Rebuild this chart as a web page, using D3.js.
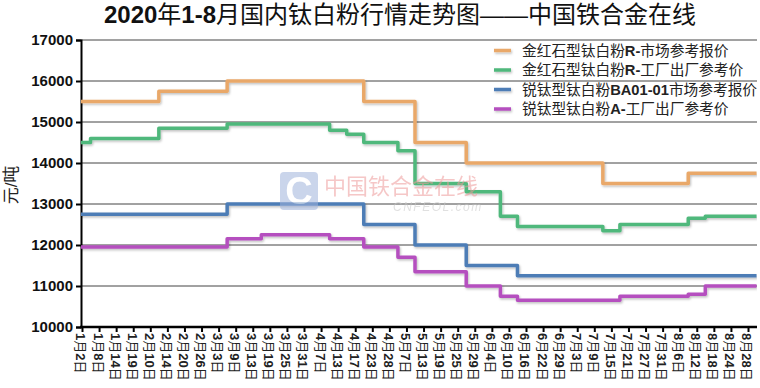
<!DOCTYPE html>
<html>
<head>
<meta charset="utf-8">
<script src="https://cdn.jsdelivr.net/npm/d3@7"></script>
<style>
  body { margin: 0; background: #fff; }
  svg { display: block; font-family: "Liberation Sans", Arial, "Noto Sans CJK SC", sans-serif; }
</style>
</head>
<body>
<div id="chart"></div>
<script>
// x categories (tick labels)
var dates = ["1月2日","1月8日","1月14日","1月19日","2月10日","2月14日","2月20日","2月26日",
  "3月3日","3月9日","3月13日","3月19日","3月25日","3月31日","4月7日","4月13日","4月17日",
  "4月23日","4月28日","5月7日","5月13日","5月19日","5月25日","5月29日","6月4日","6月10日",
  "6月16日","6月22日","6月29日","7月3日","7月9日","7月15日","7月21日","7月27日","7月31日",
  "8月6日","8月12日","8月18日","8月24日","8月28日"];

var yTicks = [10000, 11000, 12000, 13000, 14000, 15000, 16000, 17000];

// 金红石型钛白粉R-市场参考报价
var rutileMarket = [15500,15500,15500,15500,15500,15750,15750,15750,15750,16000,
  16000,16000,16000,16000,16000,16000,16000,15500,15500,15500,
  14500,14500,14500,14000,14000,14000,14000,14000,14000,14000,
  14000,13500,13500,13500,13500,13500,13750,13750,13750,13750];
// 金红石型钛白粉R-工厂出厂参考价
var rutileFactory = [14500,14600,14600,14600,14600,14850,14850,14850,14850,14950,
  14950,14950,14950,14950,14950,14800,14700,14500,14500,14300,
  13500,13500,13500,13300,13300,12700,12450,12450,12450,12450,
  12450,12350,12500,12500,12500,12500,12650,12700,12700,12700];
// 锐钛型钛白粉BA01-01市场参考报价
var anataseMarket = [12750,12750,12750,12750,12750,12750,12750,12750,12750,13000,
  13000,13000,13000,13000,13000,13000,13000,12500,12500,12500,
  12000,12000,12000,11500,11500,11500,11250,11250,11250,11250,
  11250,11250,11250,11250,11250,11250,11250,11250,11250,11250];
// 锐钛型钛白粉A-工厂出厂参考价
var anataseFactory = [11950,11950,11950,11950,11950,11950,11950,11950,11950,12150,
  12150,12250,12250,12250,12250,12150,12150,11950,11950,11700,
  11350,11350,11350,11000,11000,10750,10650,10650,10650,10650,
  10650,10650,10750,10750,10750,10750,10800,11000,11000,11000];

var seriesNames = ["金红石型钛白粉R-市场参考报价", "金红石型钛白粉R-工厂出厂参考价",
  "锐钛型钛白粉BA01-01市场参考报价", "锐钛型钛白粉A-工厂出厂参考价"];
var seriesColors = ["#E9A869", "#4FB87B", "#4E7DB6", "#B550BF"];
var seriesValues = [rutileMarket, rutileFactory, anataseMarket, anataseFactory];

var W = 760, H = 388;
var plot = {left: 81, right: 757, top: 40, bottom: 327};

var svg = d3.select("#chart").append("svg")
    .attr("width", W)
    .attr("height", H);

var defs = svg.append("defs");
var f = defs.append("filter").attr("id", "shadow")
    .attr("filterUnits", "userSpaceOnUse")
    .attr("x", 0).attr("y", 0).attr("width", W).attr("height", H);
f.append("feDropShadow").attr("dx", 1).attr("dy", 1.5).attr("stdDeviation", 1.2)
    .attr("flood-color", "#000").attr("flood-opacity", 0.25);
defs.append("clipPath").attr("id", "plotclip").append("rect")
    .attr("x", plot.left).attr("y", 0)
    .attr("width", plot.right - plot.left).attr("height", H);

// split text so latin/digits get bold Arial, CJK stays regular
function mixedText(sel, str) {
  str.split(/([A-Za-z0-9\-]+)/).filter(function(s) { return s.length; }).forEach(function(part) {
    sel.append("tspan")
      .attr("font-weight", /[A-Za-z0-9\-]/.test(part) ? "bold" : "normal")
      .text(part);
  });
}

// title
var title = svg.append("text")
    .attr("x", 400).attr("y", 23)
    .attr("text-anchor", "middle")
    .style("font-size", "24px")
    .attr("fill", "#111");
mixedText(title, "2020年1-8月国内钛白粉行情走势图——中国铁合金在线");

// scales
var x = d3.scalePoint().domain(dates).range([82, 748]);
var y = d3.scaleLinear().domain([10000, 17000]).range([plot.bottom, plot.top]);

// gridlines
svg.append("g").selectAll("line")
  .data(yTicks.slice(1))
  .enter().append("line")
    .attr("x1", plot.left).attr("x2", plot.right)
    .attr("y1", function(d) { return y(d); })
    .attr("y2", function(d) { return y(d); })
    .attr("stroke", "#444")
    .attr("stroke-width", 1);

// y axis
var yAxis = svg.append("g")
    .attr("transform", "translate(" + plot.left + ",0)")
    .call(d3.axisLeft(y).tickValues(yTicks).tickSize(5).tickPadding(3).tickFormat(d3.format("d")));
yAxis.select(".domain").attr("stroke", "#000").attr("stroke-width", 2);
yAxis.selectAll(".tick line").attr("stroke", "#000").attr("stroke-width", 2);
yAxis.selectAll(".tick text")
    .style("font-size", "15px").style("font-weight", "bold")
    .style("font-family", "'Liberation Sans', Arial, sans-serif")
    .attr("fill", "#111");

svg.append("text")
    .attr("transform", "translate(17,185) rotate(-90)")
    .attr("text-anchor", "middle")
    .style("font-size", "17px")
    .attr("fill", "#222")
    .text("元/吨");

// series lines
var half = x.step() / 2;
var line = d3.line().curve(d3.curveStep)
    .x(function(d) { return d[0]; })
    .y(function(d) { return d[1]; });

var lines = svg.append("g").attr("clip-path", "url(#plotclip)");
seriesValues.forEach(function(vals, k) {
  var pts = vals.map(function(v, i) { return [x(dates[i]), y(v)]; });
  pts.unshift([pts[0][0] - half, pts[0][1]]);
  pts.push([pts[pts.length - 1][0] + half, pts[pts.length - 1][1]]);
  lines.append("path")
      .datum(pts)
      .attr("d", line)
      .attr("fill", "none")
      .attr("stroke", seriesColors[k])
      .attr("stroke-width", 3.5)
      .attr("stroke-linejoin", "round")
      .attr("filter", "url(#shadow)");
});

// x axis
var xAxis = svg.append("g")
    .attr("transform", "translate(0," + plot.bottom + ")")
    .call(d3.axisBottom(x).tickSize(5).tickFormat(""));
xAxis.select(".domain").remove();
xAxis.selectAll(".tick line").attr("stroke", "#000").attr("stroke-width", 2);
svg.append("line")
    .attr("x1", plot.left - 1).attr("x2", plot.right)
    .attr("y1", plot.bottom).attr("y2", plot.bottom)
    .attr("stroke", "#000").attr("stroke-width", 2.5);

dates.forEach(function(d) {
  var t = svg.append("text")
      .attr("transform", "translate(" + (x(d) - 1) + "," + (plot.bottom + 6) + ") rotate(90)")
      .attr("dy", "0.35em")
      .style("font-size", "13px")
      .attr("fill", "#222");
  mixedText(t, d);
});

// watermark
var wm = svg.append("g").attr("opacity", 0.55);
wm.append("rect")
    .attr("x", 280).attr("y", 172).attr("width", 38).attr("height", 38).attr("rx", 4)
    .attr("fill", "#9fb3dc");
wm.append("text")
    .attr("x", 299).attr("y", 204)
    .attr("text-anchor", "middle")
    .style("font-size", "38px").style("font-weight", "bold")
    .attr("fill", "#fff")
    .text("C");
wm.append("text")
    .attr("x", 324).attr("y", 194)
    .style("font-size", "22px")
    .attr("fill", "#ee9a9a")
    .text("中国铁合金在线");
wm.append("text")
    .attr("x", 393).attr("y", 211)
    .style("font-size", "12px").style("font-style", "italic")
    .style("letter-spacing", "1.5px")
    .attr("fill", "#c8c8c8")
    .text("CNFEOL.com");

// legend
var legend = svg.append("g");
seriesNames.forEach(function(name, k) {
  var ly = 50.5 + k * 19.5;
  legend.append("line")
      .attr("x1", 494).attr("x2", 511)
      .attr("y1", ly).attr("y2", ly)
      .attr("stroke", seriesColors[k])
      .attr("stroke-width", 3.5)
      .attr("filter", "url(#shadow)");
  var t = legend.append("text")
      .attr("x", 522).attr("y", ly)
      .attr("dy", "0.36em")
      .style("font-size", "14.7px")
      .attr("fill", "#222");
  mixedText(t, name);
});
</script>
</body>
</html>
